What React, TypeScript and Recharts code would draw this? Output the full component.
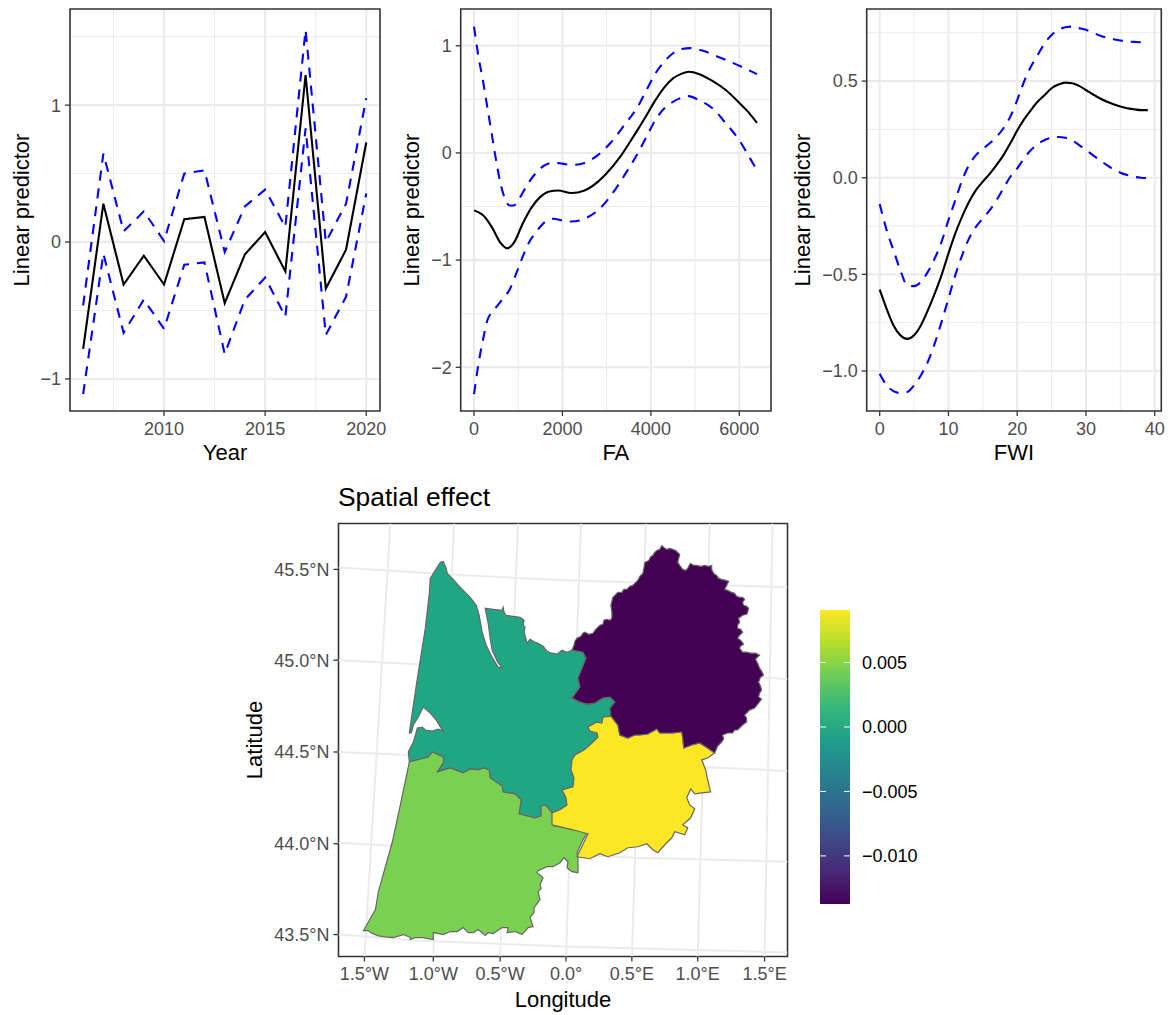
import React from "react";
import {
  LineChart, Line, ScatterChart, Scatter, XAxis, YAxis, CartesianGrid, ReferenceArea,
} from "recharts";

const FONT = "'Liberation Sans', Arial, sans-serif";
const TICK_SIZE = 18;
const TITLE_SIZE = 22;

// year effect
const years = [2006, 2007, 2008, 2009, 2010, 2011, 2012, 2013, 2014, 2015, 2016, 2017, 2018, 2019, 2020];
const yearMean = [-0.78, 0.28, -0.31, -0.1, -0.31, 0.166, 0.183, -0.446, -0.09, 0.073, -0.215, 1.22, -0.34, -0.056, 0.727];
const yearUpper = [-0.463, 0.646, 0.078, 0.224, 0.007, 0.5, 0.524, -0.073, 0.26, 0.383, 0.11, 1.55, 0, 0.28, 1.05];
const yearLower = [-1.11, -0.085, -0.663, -0.42, -0.634, -0.166, -0.149, -0.817, -0.42, -0.26, -0.544, 0.83, -0.678, -0.4, 0.354];
const yearTable = years.map((x, i) => ({ x, mean: yearMean[i], upper: yearUpper[i], lower: yearLower[i] }));

// FA effect
const faMean = [[0, -0.536], [200, -0.58], [400, -0.69], [600, -0.84], [750, -0.89], [900, -0.84], [1100, -0.66], [1300, -0.51], [1500, -0.41], [1700, -0.36], [1900, -0.35], [2200, -0.374], [2500, -0.35], [2800, -0.27], [3000, -0.19], [3300, -0.04], [3600, 0.15], [3900, 0.35], [4100, 0.49], [4300, 0.61], [4500, 0.695], [4700, 0.74], [4850, 0.757], [5100, 0.735], [5400, 0.67], [5700, 0.585], [6000, 0.467], [6200, 0.383], [6400, 0.28]];
const faUpper = [[0, 1.178], [100, 0.9], [200, 0.68], [300, 0.43], [400, 0.18], [500, -0.07], [600, -0.287], [700, -0.427], [800, -0.49], [900, -0.49], [1000, -0.44], [1200, -0.3], [1400, -0.187], [1600, -0.115], [1800, -0.09], [2000, -0.1], [2200, -0.112], [2500, -0.093], [2800, -0.02], [3100, 0.1], [3400, 0.26], [3700, 0.43], [3900, 0.586], [4100, 0.74], [4300, 0.85], [4500, 0.93], [4700, 0.97], [4900, 0.978], [5200, 0.95], [5500, 0.9], [5800, 0.85], [6100, 0.794], [6400, 0.735]];
const faLower = [[0, -2.25], [100, -1.97], [200, -1.75], [300, -1.564], [400, -1.486], [500, -1.44], [650, -1.36], [800, -1.28], [950, -1.13], [1100, -0.97], [1250, -0.83], [1400, -0.74], [1600, -0.645], [1800, -0.614], [2000, -0.63], [2200, -0.64], [2500, -0.614], [2800, -0.536], [3100, -0.396], [3400, -0.21], [3700, -0.006], [3900, 0.15], [4100, 0.305], [4300, 0.414], [4500, 0.477], [4700, 0.517], [4850, 0.53], [5100, 0.49], [5400, 0.414], [5700, 0.274], [6000, 0.118], [6200, -0.02], [6400, -0.162]];

// FWI effect, one value per FWI unit from 0 to 39
const fwiMean = [-0.579, -0.677, -0.763, -0.815, -0.834, -0.815, -0.763, -0.686, -0.6, -0.504, -0.392, -0.288, -0.2, -0.124, -0.064, -0.02, 0.02, 0.066, 0.117, 0.178, 0.244, 0.302, 0.35, 0.394, 0.428, 0.463, 0.482, 0.492, 0.489, 0.475, 0.454, 0.432, 0.411, 0.394, 0.38, 0.368, 0.359, 0.354, 0.35, 0.35];
const fwiUpper = [-0.136, -0.27, -0.375, -0.478, -0.556, -0.561, -0.539, -0.487, -0.418, -0.332, -0.219, -0.116, -0.012, 0.066, 0.117, 0.149, 0.178, 0.212, 0.256, 0.316, 0.402, 0.497, 0.575, 0.636, 0.696, 0.739, 0.765, 0.779, 0.782, 0.774, 0.765, 0.751, 0.736, 0.725, 0.717, 0.71, 0.705, 0.703, 0.701, 0.701];
const fwiLower = [-1.014, -1.074, -1.104, -1.114, -1.109, -1.074, -1.022, -0.953, -0.858, -0.746, -0.625, -0.504, -0.4, -0.314, -0.254, -0.211, -0.168, -0.116, -0.055, 0.005, 0.048, 0.1, 0.143, 0.174, 0.195, 0.207, 0.211, 0.207, 0.192, 0.169, 0.143, 0.117, 0.092, 0.066, 0.043, 0.026, 0.014, 0.005, 0, -0.002];
const fwiTable = fwiMean.map((mean, x) => ({ x, mean, upper: fwiUpper[x], lower: fwiLower[x] }));

// map, projected easting / northing from 0 deg E, 45 deg N
const gironde = [[-126, 98], [-123, 99], [-120, 92], [-119, 87], [-114, 82], [-106, 73], [-96, 63], [-90, 55], [-87, 45], [-84, 28], [-80, 15], [-74, 3], [-68, -7], [-64, -8], [-69, -1], [-74, 10], [-76, 22], [-78, 37], [-81, 52], [-73, 51], [-64, 50], [-63, 53], [-62, 48], [-60, 45], [-53, 44], [-46, 43], [-42, 40], [-43, 35], [-41, 33], [-42, 28], [-39, 17], [-36, 21], [-31, 18], [-28, 17], [-23, 14], [-19, 9], [-14, 7], [-9, 6], [-4, 10], [1, 8], [6, 10], [17, 8], [20, 2], [16, -8], [12, -18], [14, -27], [6, -38], [14, -42], [21, -44], [29, -43], [37, -38], [44, -37], [49, -42], [44, -48], [45, -57], [37, -57], [36, -63], [31, -62], [22, -67], [24, -71], [31, -73], [32, -77], [26, -83], [18, -90], [9, -95], [6, -100], [5, -110], [8, -118], [7, -127], [-4, -130], [0, -138], [1, -145], [-6, -150], [-14, -153], [-18, -148], [-21, -145], [-25, -146], [-25, -156], [-31, -158], [-39, -156], [-47, -154], [-45, -140], [-51, -134], [-63, -132], [-64, -126], [-76, -118], [-77, -110], [-83, -108], [-88, -110], [-96, -109], [-103, -113], [-116, -108], [-129, -112], [-123, -103], [-123, -97], [-134, -92], [-138, -97], [-157, -102], [-158, -92], [-153, -82], [-150, -72], [-149, -68], [-144, -67], [-141, -70], [-134, -71], [-128, -69], [-123, -71], [-126, -67], [-130, -60], [-136, -53], [-143, -47], [-148, -57], [-153, -65], [-155, -73], [-157, -73], [-153, -45], [-148, -12], [-141, 32], [-137, 67], [-136, 82], [-131, 90], [-126, 98]];
const landes = [[-157, -102], [-138, -97], [-134, -92], [-123, -97], [-123, -103], [-129, -112], [-116, -108], [-103, -113], [-96, -109], [-88, -110], [-83, -108], [-77, -110], [-76, -118], [-64, -126], [-63, -132], [-51, -134], [-45, -140], [-47, -154], [-39, -156], [-31, -158], [-25, -156], [-25, -146], [-21, -145], [-18, -148], [-14, -153], [-13, -166], [4, -168], [21, -173], [16, -182], [11, -193], [12, -198], [12, -213], [6, -212], [1, -208], [2, -202], [-2, -198], [-6, -203], [-13, -207], [-19, -207], [-28, -211], [-29, -213], [-23, -218], [-26, -225], [-25, -229], [-28, -232], [-26, -240], [-32, -248], [-32, -253], [-36, -258], [-33, -267], [-38, -268], [-44, -275], [-51, -272], [-59, -273], [-58, -268], [-64, -268], [-73, -274], [-78, -273], [-81, -276], [-88, -270], [-93, -273], [-98, -273], [-103, -268], [-109, -272], [-116, -272], [-123, -275], [-133, -273], [-133, -280], [-144, -278], [-151, -278], [-156, -280], [-156, -278], [-163, -275], [-173, -278], [-183, -277], [-189, -276], [-196, -273], [-198, -271], [-203, -271], [-191, -250], [-188, -232], [-174, -182], [-166, -145], [-157, -102]];
const lotGaronne = [[45, -56], [52, -65], [54, -75], [62, -78], [69, -75], [74, -75], [82, -74], [91, -69], [94, -73], [107, -73], [116, -72], [117, -78], [118, -88], [126, -85], [134, -83], [142, -88], [149, -93], [142, -98], [136, -100], [140, -110], [142, -120], [145, -132], [136, -133], [129, -134], [125, -129], [121, -138], [124, -145], [129, -149], [125, -158], [117, -165], [122, -168], [119, -175], [109, -172], [106, -178], [99, -185], [92, -193], [87, -190], [81, -184], [72, -187], [62, -188], [54, -193], [42, -197], [34, -194], [24, -199], [11, -197], [22, -174], [7, -170], [-14, -165], [-14, -153], [-6, -150], [1, -145], [0, -138], [-4, -130], [7, -127], [8, -118], [5, -110], [6, -100], [9, -95], [18, -90], [26, -83], [32, -77], [31, -73], [24, -71], [22, -67], [31, -62], [36, -63], [37, -57], [45, -56]];
const dordogne = [[96, 115], [98, 113], [101, 111], [104, 112], [107, 111], [110, 110], [114, 106], [113, 102], [112, 98], [114, 95], [117, 91], [120, 90], [122, 92], [124, 96], [125, 97], [128, 95], [131, 95], [135, 94], [139, 95], [143, 94], [146, 95], [146, 91], [148, 87], [151, 85], [153, 82], [156, 81], [160, 80], [163, 79], [161, 75], [159, 71], [162, 70], [166, 68], [169, 67], [171, 64], [174, 63], [177, 63], [179, 61], [177, 58], [178, 55], [181, 54], [183, 52], [182, 48], [181, 46], [177, 45], [173, 42], [174, 38], [172, 35], [172, 32], [175, 31], [177, 28], [174, 25], [172, 22], [175, 20], [178, 16], [175, 14], [174, 12], [177, 8], [181, 8], [185, 7], [190, 7], [194, 5], [192, 3], [190, 1], [192, -3], [194, -8], [196, -11], [198, -15], [195, -17], [193, -22], [195, -26], [196, -30], [194, -33], [193, -37], [196, -39], [193, -43], [189, -48], [184, -50], [179, -55], [181, -58], [181, -62], [177, -65], [172, -70], [169, -70], [167, -73], [162, -73], [157, -75], [158, -79], [156, -82], [152, -86], [149, -93], [142, -88], [134, -83], [126, -85], [118, -88], [117, -78], [116, -72], [107, -73], [94, -73], [91, -69], [82, -74], [74, -75], [69, -75], [62, -78], [54, -75], [52, -65], [45, -56], [44, -48], [49, -42], [44, -37], [37, -38], [29, -43], [21, -44], [14, -42], [6, -38], [14, -27], [12, -18], [16, -8], [20, 2], [17, 8], [6, 10], [8, 15], [9, 19], [11, 22], [15, 24], [17, 27], [19, 28], [23, 26], [27, 27], [30, 31], [34, 35], [37, 36], [38, 40], [41, 41], [44, 40], [46, 42], [46, 48], [45, 55], [46, 59], [47, 63], [49, 65], [52, 68], [56, 68], [58, 71], [61, 71], [64, 74], [67, 75], [69, 77], [72, 80], [74, 84], [77, 87], [78, 92], [79, 98], [83, 100], [85, 104], [87, 105], [89, 108], [91, 110], [94, 111], [96, 115]];
const regions = [
  { name: "Gironde", coords: gironde, fill: "#21A685" },
  { name: "Landes", coords: landes, fill: "#7AD151" },
  { name: "Lot-et-Garonne", coords: lotGaronne, fill: "#FDE725" },
  { name: "Dordogne", coords: dordogne, fill: "#440154" },
];

const parallels = [
  [[-228, 93], [-116, 86], [-1, 80], [222, 73]],
  [[-228, 0], [-149, -4], [0, -11], [199, -17], [222, -19]],
  [[-228, -92], [-159, -95], [0, -102], [159, -108], [222, -111]],
  [[-228, -183], [-176, -186], [69, -198], [222, -202]],
  [[-228, -275], [-149, -281], [0, -287], [222, -293]],
];
const meridians = [
  [[-202, -297], [-176, 137]],
  [[-133, -297], [-112, 137]],
  [[-66, -297], [-48, 137]],
  [[0, -297], [15, 137]],
  [[66, -297], [80, 137]],
  [[132, -297], [144, 137]],
  [[199, -297], [207, 137]],
];
const lonTicks = [-202, -133, -66, 0, 66, 132, 199];
const lonLabels = ["1.5°W", "1.0°W", "0.5°W", "0.0°", "0.5°E", "1.0°E", "1.5°E"];
const latTicks = [91, 0, -92, -184, -275];
const latLabels = ["45.5°N", "45.0°N", "44.5°N", "44.0°N", "43.5°N"];

// colour bar
const barTicks = [-0.01, -0.005, 0, 0.005];
const barMin = -0.01373;
const barMax = 0.00907;
const barBody = [[0, barMin], [1, barMin], [1, barMax], [0, barMax], [0, barMin]];
const viridis = ["#440154", "#482878", "#3E4A89", "#31688E", "#26828E", "#1F9E89", "#35B779", "#6DCD59", "#B4DE2C", "#FDE725"];

const minus = (s: string) => s.replace("-", "\u2212");
const toPts = (arr: number[][]) => arr.map(([x, y]) => ({ x, y }));
const NoDot = () => <g />;

const tickStyle = { fill: "#4D4D4D", fontSize: TICK_SIZE, fontFamily: FONT };
const labelStyle = { fill: "#000", fontSize: TITLE_SIZE, fontFamily: FONT };
const GRID = "#EBEBEB";
const BORDER = "#333333";

function Effect({ left, width, axisW, right, xDomain, yDomain, xTicks, yTicks, xMinor, yMinor, xName, yOffset, yFmt, children, data }: any) {
  return (
    <div style={{ position: "absolute", left, top: 0 }}>
      <LineChart width={width} height={470} data={data} margin={{ top: 9, right, bottom: 0, left: 0 }}>
        <CartesianGrid stroke={GRID} strokeWidth={1} horizontalValues={yMinor} verticalValues={xMinor} />
        <CartesianGrid stroke={GRID} strokeWidth={2.1} horizontalValues={yTicks} verticalValues={xTicks} />
        <XAxis
          type="number" dataKey="x" domain={xDomain} ticks={xTicks} allowDataOverflow height={59}
          tick={tickStyle} tickSize={5} tickMargin={6} tickLine={{ stroke: BORDER, strokeWidth: 1.3 }} axisLine={false} interval={0}
          label={{ value: xName, position: "insideBottom", offset: 10, style: labelStyle }}
        />
        <YAxis
          type="number" domain={yDomain} ticks={yTicks} allowDataOverflow width={axisW}
          tick={tickStyle} tickSize={5} tickMargin={4} tickLine={{ stroke: BORDER, strokeWidth: 1.3 }} axisLine={false} interval={0}
          tickFormatter={(v: number) => minus(yFmt ? yFmt(v) : String(v))}
          label={{ value: "Linear predictor", angle: -90, position: "insideLeft", offset: yOffset, style: { ...labelStyle, textAnchor: "middle" } }}
        />
        {children}
        <ReferenceArea x1={xDomain[0]} x2={xDomain[1]} y1={yDomain[0]} y2={yDomain[1]} fill="none" stroke={BORDER} strokeWidth={1.6} ifOverflow="visible" />
      </LineChart>
    </div>
  );
}

const dashed = { stroke: "#0000FF", strokeWidth: 2.1, strokeDasharray: "10 8", dot: false, isAnimationActive: false };
const solid = { stroke: "#000", strokeWidth: 2.1, dot: false, isAnimationActive: false };

export default function App() {
  return (
    <div style={{ position: "absolute", left: 0, top: 0, width: 1172, height: 1015, background: "#fff", fontFamily: FONT }}>
      <Effect left={0} width={390} axisW={70} right={10} xDomain={[2005.35, 2020.68]} yDomain={[-1.234, 1.702]}
        xTicks={[2010, 2015, 2020]} yTicks={[-1, 0, 1]} xMinor={[2007.5, 2012.5, 2017.5]} yMinor={[-0.5, 0.5, 1.5]}
        xName="Year" yOffset={21} data={yearTable}>
        <Line type="linear" dataKey="upper" {...dashed} />
        <Line type="linear" dataKey="lower" {...dashed} />
        <Line type="linear" dataKey="mean" {...solid} />
      </Effect>

      <Effect left={395} width={385} axisW={65.7} right={9} xDomain={[-301, 6717]} yDomain={[-2.408, 1.343]}
        xTicks={[0, 2000, 4000, 6000]} yTicks={[-2, -1, 0, 1]} xMinor={[1000, 3000, 5000]} yMinor={[-1.5, -0.5, 0.5]}
        xName="FA" yOffset={16}>
        <Line type="monotone" data={toPts(faUpper)} dataKey="y" {...dashed} />
        <Line type="monotone" data={toPts(faLower)} dataKey="y" {...dashed} />
        <Line type="monotone" data={toPts(faMean)} dataKey="y" {...solid} />
      </Effect>

      <Effect left={785} width={387} axisW={81.7} right={10.7} xDomain={[-1.89, 40.96]} yDomain={[-1.207, 0.873]}
        xTicks={[0, 10, 20, 30, 40]} yTicks={[-1, -0.5, 0, 0.5]} xMinor={[5, 15, 25, 35]} yMinor={[-0.75, -0.25, 0.25, 0.75]}
        xName="FWI" yOffset={17} yFmt={(v: number) => v.toFixed(1)} data={fwiTable}>
        <Line type="monotone" dataKey="upper" {...dashed} />
        <Line type="monotone" dataKey="lower" {...dashed} />
        <Line type="monotone" dataKey="mean" {...solid} />
      </Effect>

      <div style={{ position: "absolute", left: 338, top: 482, fontSize: 26.4, lineHeight: "30px", color: "#000" }}>Spatial effect</div>

      <div style={{ position: "absolute", left: 230, top: 500 }}>
        <ScatterChart width={570} height={515} margin={{ top: 23.5, right: 12.5, bottom: 0, left: 0 }}>
          <XAxis
            type="number" dataKey="x" domain={[-228, 222]} ticks={lonTicks} allowDataOverflow height={58.5} interval={0}
            tick={tickStyle} tickSize={5} tickMargin={6} tickLine={{ stroke: BORDER, strokeWidth: 1.3 }} axisLine={false}
            tickFormatter={(v: number) => lonLabels[lonTicks.indexOf(v)]}
            label={{ value: "Longitude", position: "insideBottom", offset: 8, style: labelStyle }}
          />
          <YAxis
            type="number" dataKey="y" domain={[-297, 137]} ticks={latTicks} allowDataOverflow width={108.5} interval={0}
            tick={tickStyle} tickSize={5} tickMargin={4} tickLine={{ stroke: BORDER, strokeWidth: 1.3 }} axisLine={false}
            tickFormatter={(v: number) => latLabels[latTicks.indexOf(v)]}
            label={{ value: "Latitude", angle: -90, position: "insideLeft", offset: 24, style: { ...labelStyle, textAnchor: "middle" } }}
          />
          {[...parallels, ...meridians].map((g, i) => (
            <Scatter key={"g" + i} data={toPts(g)} shape={NoDot} isAnimationActive={false}
              line={{ stroke: GRID, strokeWidth: 2, fill: "none" }} />
          ))}
          {regions.map((r) => (
            <Scatter key={r.name} name={r.name} data={toPts(r.coords)} shape={NoDot} isAnimationActive={false}
              line={{ stroke: "#666666", strokeWidth: 1.2, fill: r.fill }} />
          ))}
          <ReferenceArea x1={-228} x2={222} y1={-297} y2={137} fill="none" stroke={BORDER} strokeWidth={1.6} ifOverflow="visible" />
        </ScatterChart>
      </div>

      <div style={{ position: "absolute", left: 810, top: 600 }}>
        <ScatterChart width={120} height={314} margin={{ top: 10, right: 0, bottom: 10, left: 10 }}>
          <defs>
            <linearGradient id="viridisBar" x1="0" y1="1" x2="0" y2="0">
              {viridis.map((c, i) => <stop key={c} offset={i / (viridis.length - 1)} stopColor={c} />)}
            </linearGradient>
          </defs>
          <XAxis type="number" dataKey="x" domain={[0, 1]} height={0} tick={false} tickLine={false} axisLine={false} />
          <YAxis
            type="number" dataKey="y" orientation="right" domain={[barMin, barMax]} ticks={barTicks} allowDataOverflow width={80} interval={0}
            tick={{ fill: "#000", fontSize: TICK_SIZE, fontFamily: FONT }} tickSize={0} tickLine={false} axisLine={false} tickMargin={12}
            tickFormatter={(v: number) => minus(v.toFixed(3))}
          />
          <Scatter data={toPts(barBody)} shape={NoDot} isAnimationActive={false}
            line={{ stroke: "none", fill: "url(#viridisBar)" }} />
          {barTicks.map((v) => (
            <Scatter key={"l" + v} data={[{ x: 0, y: v }, { x: 0.2, y: v }]} shape={NoDot} isAnimationActive={false}
              line={{ stroke: "#fff", strokeWidth: 1, fill: "none" }} />
          ))}
          {barTicks.map((v) => (
            <Scatter key={"r" + v} data={[{ x: 0.8, y: v }, { x: 1, y: v }]} shape={NoDot} isAnimationActive={false}
              line={{ stroke: "#fff", strokeWidth: 1, fill: "none" }} />
          ))}
        </ScatterChart>
      </div>
    </div>
  );
}
